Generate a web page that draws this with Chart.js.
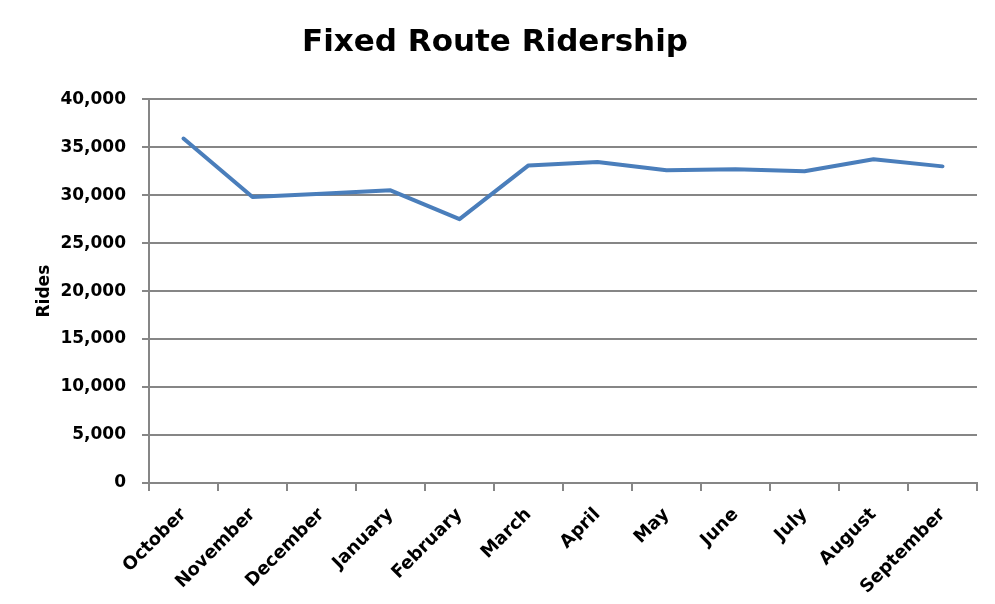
<!DOCTYPE html>
<html>
<head>
<meta charset="utf-8">
<script src="https://cdn.jsdelivr.net/npm/chart.js@4/dist/chart.umd.min.js"></script>
<style>
  html, body { margin: 0; padding: 0; background: #fff; }
  #wrap { width: 995px; height: 604px; }
</style>
</head>
<body>
<div id="wrap"><canvas id="chartRides"></canvas></div>
<script>
/* data */
const months = ['October', 'November', 'December', 'January', 'February', 'March',
                'April', 'May', 'June', 'July', 'August', 'September'];
const rides = [35900, 29800, 30150, 30500, 27500, 33100,
               33450, 32600, 32700, 32500, 33750, 33000];
const yTicks = [0, 5000, 10000, 15000, 20000, 25000, 30000, 35000, 40000];

const AXIS_GREY = '#868686';
const FONT = 'DejaVu Sans';

const ctx = document.getElementById('chartRides').getContext('2d');
const chartRides = new Chart(ctx, {
    type: 'line',
    data: {
        labels: months,
        datasets: [{
            label: 'Rides',
            data: rides,
            borderColor: '#4A7EBB',
            borderWidth: 4,
            borderCapStyle: 'round',
            borderJoinStyle: 'round',
            pointRadius: 0,
            fill: false,
            tension: 0
        }]
    },
    options: {
        responsive: true,
        maintainAspectRatio: false,
        animation: false,
        // left padding + y axis width = 149, keeps the title centred on the page
        layout: { padding: { left: 13, right: 18, top: 0, bottom: 0 } },
        plugins: {
            legend: { display: false },
            tooltip: { enabled: false },
            title: {
                display: true,
                text: 'Fixed Route Ridership',
                color: '#000',
                font: { family: FONT, size: 31, weight: 'bold' },
                padding: { top: 24, bottom: 38 }
            }
        },
        scales: {
            x: {
                offset: true,
                grid: { offset: true, drawOnChartArea: false, drawTicks: true, tickLength: 8, color: AXIS_GREY, lineWidth: 2 },
                border: { color: AXIS_GREY, width: 2 },
                ticks: {
                    color: '#000',
                    font: { family: FONT, size: 18, weight: 'bold' },
                    minRotation: 45, maxRotation: 45,
                    autoSkip: false,
                    padding: 13
                },
                afterFit: function (scale) { scale.height = 121; }
            },
            y: {
                min: 0,
                max: 40000,
                afterBuildTicks: function (scale) {
                    scale.ticks = yTicks.map(function (v) { return { value: v }; });
                },
                grid: { color: AXIS_GREY, lineWidth: 2, tickLength: 7 },
                border: { color: AXIS_GREY, width: 2 },
                ticks: {
                    color: '#000',
                    font: { family: FONT, size: 17, weight: 'bold' },
                    padding: 16,
                    callback: function (v) { return Number(v).toLocaleString('en-US'); }
                },
                title: {
                    display: true,
                    text: 'Rides',
                    color: '#000',
                    font: { family: FONT, size: 17, weight: 'bold' },
                    padding: { top: 21, bottom: 0 }
                },
                afterFit: function (scale) { scale.width = 136; }
            }
        }
    }
});
</script>
</body>
</html>
